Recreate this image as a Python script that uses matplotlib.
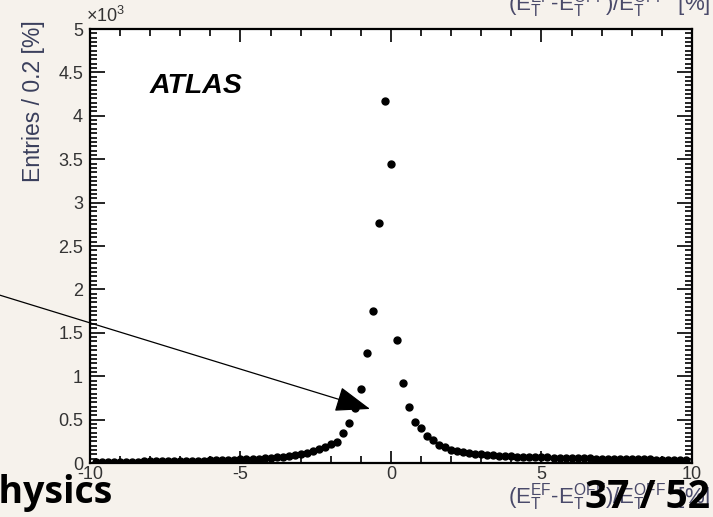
import numpy as np
import matplotlib
matplotlib.use("Agg")
import matplotlib.pyplot as plt
from matplotlib.ticker import MultipleLocator

plt.rcParams['font.family'] = ['Liberation Sans', 'DejaVu Sans']
plt.rcParams['mathtext.default'] = 'regular'

# bin centres, 0.2 % wide bins
bin_width = 0.2
bin_centers = np.round(np.arange(-9.8, 9.81, bin_width), 1)

# entries per bin in units of 10^3
left_tail = [0.012, 0.013, 0.013, 0.014, 0.015, 0.016, 0.016, 0.017, 0.018, 0.019,
             0.020, 0.021, 0.022, 0.023, 0.024, 0.025, 0.026, 0.028, 0.029, 0.031,
             0.032, 0.034, 0.036, 0.038, 0.041, 0.044, 0.047, 0.051, 0.055, 0.060,
             0.066, 0.072, 0.080, 0.090, 0.100, 0.115, 0.138, 0.160, 0.190, 0.220,
             0.245, 0.350, 0.457, 0.630, 0.856, 1.270, 1.755, 2.760, 4.170]
center_bin = [3.450]
right_tail = [1.420, 0.920, 0.650, 0.470, 0.400, 0.310, 0.260, 0.210, 0.180, 0.155,
              0.135, 0.125, 0.115, 0.108, 0.100, 0.095, 0.090, 0.086, 0.082, 0.078,
              0.075, 0.072, 0.070, 0.067, 0.065, 0.064, 0.062, 0.060, 0.059, 0.057,
              0.056, 0.054, 0.053, 0.051, 0.050, 0.049, 0.047, 0.046, 0.045, 0.044,
              0.043, 0.042, 0.041, 0.040, 0.039, 0.038, 0.037, 0.036, 0.035]
entries = np.array(left_tail + center_bin + right_tail)

x_ticks = [-10, -5, 0, 5, 10]
x_tick_labels = ['-10', '-5', '0', '5', '10']
y_ticks = [0, 0.5, 1, 1.5, 2, 2.5, 3, 3.5, 4, 4.5, 5]
y_tick_labels = ['0', '0.5', '1', '1.5', '2', '2.5', '3', '3.5', '4', '4.5', '5']

xlabel = r'$(E_{T}^{EF}$-$E_{T}^{OFF})/E_{T}^{OFF}$  [%]'

fig = plt.figure(figsize=(7.13, 5.17), dpi=100)
fig.patch.set_facecolor('#f6f2ec')
ax = fig.add_axes([0.1262, 0.1044, 0.8443, 0.8395])
ax.set_facecolor('white')

ax.plot(bin_centers, entries, 'o', color='black', ms=5, mec='black', zorder=3)

ax.set_xlim(-10, 10)
ax.set_ylim(0, 5)
ax.set_xticks(x_ticks)
ax.set_xticklabels(x_tick_labels)
ax.set_yticks(y_ticks)
ax.set_yticklabels(y_tick_labels)
ax.xaxis.set_minor_locator(MultipleLocator(1))
ax.yaxis.set_minor_locator(MultipleLocator(0.05))

# ROOT style ticks on all four sides
ax.tick_params(axis='both', which='both', direction='in', top=True, right=True,
               colors='black', labelcolor='#333333', labelsize=13, width=1.2)
ax.tick_params(axis='y', which='major', length=11, pad=5)
ax.tick_params(axis='y', which='minor', length=5)
ax.tick_params(axis='x', which='major', length=9, pad=2)
ax.tick_params(axis='x', which='minor', length=5)
for s in ax.spines.values():
    s.set_linewidth(1.6)

ax.text(0.0997, 0.853, 'ATLAS', transform=ax.transAxes, fontsize=20.5,
        fontweight='bold', fontstyle='italic', va='baseline')

fig.text(0.120, 0.958, r'$\times10^{3}$', fontsize=13, color='#333333', va='baseline')
fig.text(0.047, 0.960, 'Entries / 0.2 [%]', rotation=90, fontsize=16.5,
         color='#3a3f5c', ha='center', va='top')

# x title bottom right, and the cut off one from the slide above
fig.text(0.996, 0.027, xlabel, fontsize=16, color='#4a4a6a', ha='right', va='baseline')
fig.text(0.996, 0.979, xlabel, fontsize=16, color='#4a4a6a', ha='right', va='baseline')

# slide footer
fig.text(0.158, 0.027, 'Physics', fontsize=27, fontweight='bold',
         family=['Open Sans', 'DejaVu Sans'], ha='right', va='baseline')
fig.text(0.996, 0.017, '37 / 52', fontsize=28, fontweight='bold',
         family=['Open Sans', 'DejaVu Sans'], ha='right', va='baseline')

# arrow drawn on the slide
ax.annotate('', xy=(0.519, 0.209), xytext=(0.0, 0.429),
            xycoords='figure fraction', textcoords='figure fraction',
            arrowprops=dict(arrowstyle='-|>,head_length=1.1,head_width=0.4',
                            mutation_scale=20, color='black', lw=0.9,
                            shrinkA=0, shrinkB=0),
            annotation_clip=False, zorder=5)

plt.savefig("out.png", dpi=100, facecolor=fig.get_facecolor())
